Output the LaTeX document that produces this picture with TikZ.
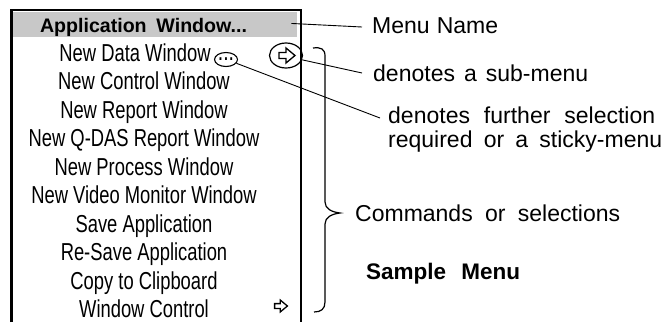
\documentclass[tikz,border=0pt]{standalone}
\usepackage{fontspec}
\setmainfont{Liberation Sans}
\newfontfamily\narrowfont[FakeStretch=0.75]{Liberation Sans}
\usetikzlibrary{shapes.geometric}
\definecolor{bandgray}{RGB}{200,200,200}
\begin{document}
\begin{tikzpicture}[x=1pt,y=-1pt,
  item/.style={anchor=base, inner sep=0pt, font=\narrowfont\fontsize{24.5}{24.5}\selectfont},
  lbl/.style={anchor=base west, inner sep=0pt, font=\fontsize{23}{23}\selectfont},
  leader/.style={line width=0.9pt},
  openarrow/.pic={\draw[line width=1.3pt, line join=miter]
     (-8,-3) -- (-1,-3) -- (-1,-7.5) -- (8,0) -- (-1,7.5) -- (-1,3) -- (-8,3) -- cycle;}
]
\useasboundingbox (0,0) rectangle (668,322);
% highlight band
\node[fill=bandgray, minimum width=284pt, minimum height=24.5pt, inner sep=0pt, anchor=north west] (band) at (13,12) {};
% menu frame (open at bottom)
\draw[line width=2.6pt] (11.5,322) -- (11.5,10) -- (301,10) -- (301,322);
% title
\node[anchor=base, inner sep=0pt, font=\bfseries\fontsize{19.6}{19.6}\selectfont] (title) at (143.5,32) {\makebox[207pt][s]{Application Window...}};
% items
\node[item] (i1) at (135,61) {New Data Window};
\node[item] (i2) at (144,89.5) {New Control Window};
\node[item] (i3) at (144,118) {New Report Window};
\node[item] (i4) at (144,146.5) {New Q-DAS Report Window};
\node[item] (i5) at (144,175) {New Process Window};
\node[item] (i6) at (144,203.5) {New Video Monitor Window};
\node[item] (i7) at (144,232) {Save Application};
\node[item] (i8) at (144,260.5) {Re-Save Application};
\node[item] (i9) at (144,289) {Copy to Clipboard};
\node[item] (i10) at (144,317) {Window Control};
% markers
\node[ellipse, draw, line width=1.2pt, minimum width=33pt, minimum height=25pt, inner sep=0pt] (sub) at (286,55.5) {};
\pic at (287,55.5) {openarrow};
\node[ellipse, draw, line width=1.1pt, minimum width=22pt, minimum height=14pt, inner sep=0pt, font=\narrowfont\fontsize{26}{26}\selectfont] (dots) at (226,59.5) {...};
\pic[scale=0.8] at (281,306) {openarrow};
% labels
\node[lbl] (mname) at (372,33) {\makebox[126pt][s]{Menu Name}};
\node[lbl] (subl) at (373,81) {\makebox[215pt][s]{denotes a sub-menu}};
\node[lbl] (further) at (388,123) {\makebox[267pt][s]{denotes further selection}};
\node[lbl] (req) at (388,147) {\makebox[274pt][s]{required or a sticky-menu}};
\node[lbl] (cmd) at (355,221.5) {\makebox[265pt][s]{Commands or selections}};
\node[lbl, font=\bfseries\fontsize{22.5}{22.5}\selectfont] (sample) at (366,279) {\makebox[154pt][s]{Sample Menu}};
% leaders
\draw[leader] ([xshift=-6pt,yshift=1pt]band.east) -- ([xshift=-10pt,yshift=6pt]mname.base west);
\draw[leader] (sub.-15) -- ([xshift=-11pt,yshift=8pt]subl.base west);
\draw[leader] (dots.-20) -- ([xshift=-8pt,yshift=5pt]further.base west);
% brace
\draw[line width=1.2pt] (313,48) .. controls (321,47) and (325,49) .. (325,56) -- (325,202)
  .. controls (325,209) and (332,212) .. (340,213)
  .. controls (332,214) and (325,217) .. (325,224) -- (325,302)
  .. controls (325,309) and (321,312) .. (314,312);
\end{tikzpicture}
\end{document}
